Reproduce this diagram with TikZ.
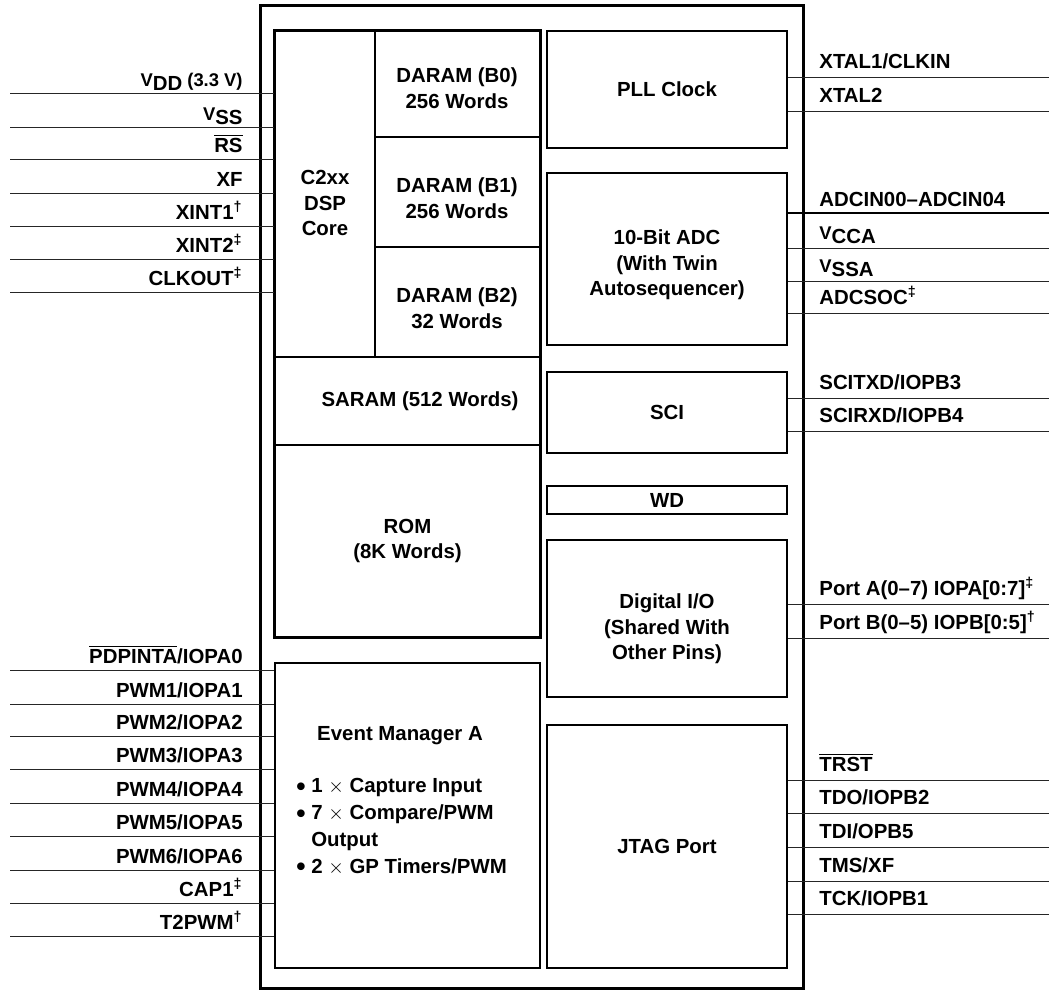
\documentclass[tikz,border=0pt]{standalone}
\usepackage{fontspec}
\usepackage{graphicx}
\setmainfont{Liberation Sans}
\usetikzlibrary{fit}

\newcommand{\pinsub}[2]{{\fontsize{9.2}{10}\selectfont #1}\raisebox{-0.45ex}{#2}}
\newcommand{\pinbar}[1]{$\overline{\mbox{#1}}$}
\newcommand{\evbullet}{\raisebox{-1.3pt}{\scalebox{1.3}{\textbullet}}}

\begin{document}
\begin{tikzpicture}[
  x=0.5pt, y=-0.5pt,
  font=\fontsize{10.2}{12.8}\selectfont\bfseries,
  chipbox/.style={draw, line width=1.5pt, inner sep=0pt},
  blk/.style={draw, line width=1pt, inner sep=0pt},
  part/.style={draw, line width=0.6pt, inner sep=0pt},
  txt/.style={align=center, inner sep=0pt},
  pin/.style={line width=0.5pt, draw=black!85},
  bus/.style={line width=1.1pt, draw=black},
  lpin/.style={anchor=base east, inner sep=0pt},
  rpin/.style={anchor=base west, inner sep=0pt}
]
\useasboundingbox (0,0) rectangle (1049,992);

% device outline
\node[chipbox, fit={(260,5) (803,988)}] (chip) {};

% memory + core column
\node[part, fit={(275,31) (375,357)}] (core) {};
\node[part, fit={(375,31) (540,137)}] (daram0) {};
\node[part, fit={(375,137) (540,247)}] (daram1) {};
\node[part, fit={(375,247) (540,357)}] (daram2) {};
\node[part, fit={(275,357) (540,445)}] (saram) {};
\node[part, fit={(275,445) (540,637)}] (rom) {};
\draw[line width=1pt] (core.north west) rectangle (rom.south east);
\node[txt] (coretext) at (325,203) {C2xx\\DSP\\Core};
\node[txt] (daram0text) at (457,88) {DARAM (B0)\\256 Words};
\node[txt] (daram1text) at (457,198) {DARAM (B1)\\256 Words};
\node[txt] (daram2text) at (457,308) {DARAM (B2)\\32 Words};
\node[txt] (saramtext) at (420,401) {SARAM (512 Words)};
\node[txt] (romtext) at (rom.center) {ROM\\(8K Words)};

% event manager
\node[blk, fit={(275,663) (540,968)}] (evm) {};
\node[anchor=base] (evmtitle) at (400,740) {Event Manager A};
\node[anchor=north west, align=left, inner sep=0pt,
  font=\fontsize{10.2}{13.4}\selectfont\bfseries] (evmlist) at (296,778)
  {\evbullet\ 1 $\times$ Capture Input\\
   \evbullet\ 7 $\times$ Compare/PWM\\
   \phantom{\evbullet\ }Output\\
   \evbullet\ 2 $\times$ GP Timers/PWM};

% peripheral column
\node[blk, fit={(547,31) (787,148)}] (pll) {};
\node[blk, fit={(547,173) (787,345)}] (adc) {};
\node[blk, fit={(547,372) (787,453)}] (sci) {};
\node[blk, fit={(547,486) (787,514)}] (wd) {};
\node[blk, fit={(547,540) (787,697)}] (dio) {};
\node[blk, fit={(547,725) (787,968)}] (jtag) {};
\node[txt] (plltext) at (pll.center) {PLL Clock};
\node[txt] (adctext) at ([yshift=-3pt]adc.center) {10-Bit ADC\\(With Twin\\Autosequencer)};
\node[txt] (scitext) at (sci.center) {SCI};
\node[txt] (wdtext) at (wd.center) {WD};
\node[txt] (diotext) at (667,629) {Digital I/O\\(Shared With\\Other Pins)};
\node[txt] (jtagtext) at (jtag.center) {JTAG Port};

% left pins, core
\foreach \y/\txt [count=\i] in {
  93/{\pinsub{V}{DD}{\fontsize{9.2}{10}\selectfont\ (3.3 V)}},
  127/{\pinsub{V}{SS}},
  159/{\pinbar{RS}},
  193/{XF},
  226/{XINT1\textsuperscript{†}},
  259/{XINT2\textsuperscript{‡}},
  292/{CLKOUT\textsuperscript{‡}}}{
  \coordinate (lc\i) at (10,\y);
  \draw[pin] (lc\i) -- (lc\i -| core.west);
  \node[lpin] (lclab\i) at (243,\y-7) {\txt};
}

% left pins, event manager
\foreach \y/\txt [count=\i] in {
  670/{\pinbar{PDPINTA}/IOPA0},
  704/{PWM1/IOPA1},
  736/{PWM2/IOPA2},
  769/{PWM3/IOPA3},
  803/{PWM4/IOPA4},
  836/{PWM5/IOPA5},
  870/{PWM6/IOPA6},
  903/{CAP1\textsuperscript{‡}},
  936/{T2PWM\textsuperscript{†}}}{
  \coordinate (le\i) at (10,\y);
  \draw[pin] (le\i) -- (le\i -| evm.west);
  \node[lpin] (lelab\i) at (243,\y-7) {\txt};
}

% right pins
\foreach \y/\blk/\txt [count=\i] in {
  77/pll/{XTAL1/CLKIN},
  111/pll/{XTAL2},
  248/adc/{\pinsub{V}{CCA}},
  281/adc/{\pinsub{V}{SSA}},
  313/adc/{ADCSOC\textsuperscript{‡}},
  398/sci/{SCITXD/IOPB3},
  431/sci/{SCIRXD/IOPB4},
  604/dio/{Port A(0–7) IOPA[0:7]\textsuperscript{‡}},
  638/dio/{Port B(0–5) IOPB[0:5]\textsuperscript{†}},
  780/jtag/{\pinbar{TRST}},
  813/jtag/{TDO/IOPB2},
  847/jtag/{TDI/OPB5},
  881/jtag/{TMS/XF},
  914/jtag/{TCK/IOPB1}}{
  \coordinate (rp\i) at (1049,\y);
  \draw[pin] (rp\i -| \blk.east) -- (rp\i);
  \node[rpin] (rplab\i) at (819,\y-9) {\txt};
}

% analog input bus
\coordinate (adcin) at (1049,213);
\draw[bus] (adcin -| adc.east) -- (adcin);
\node[rpin] (adcinlab) at (819,206) {ADCIN00–ADCIN04};
\end{tikzpicture}
\end{document}
